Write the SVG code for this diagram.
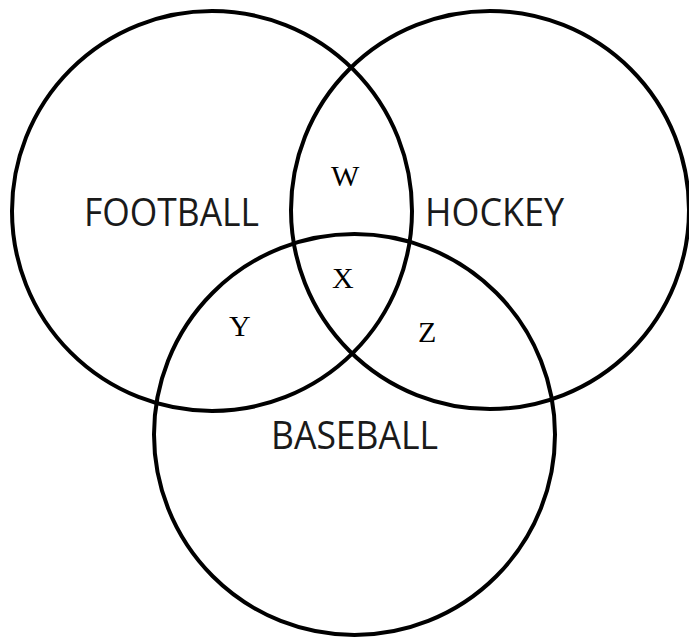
<svg xmlns="http://www.w3.org/2000/svg" width="689" height="639" viewBox="0 0 689 639">
<style>
.c{fill:none;stroke:#000;stroke-width:4}
.lab{font-family:"Open Sans","Liberation Sans",sans-serif;font-size:39px;fill:#1a1a1a}
.let{font-family:"Liberation Serif","Times New Roman",serif;font-size:30px;fill:#000}
</style>
<rect width="689" height="639" fill="#fff"/>
<g id="football"><circle class="c" cx="212" cy="211" r="200"/><text class="lab" x="84" y="226" textLength="175" lengthAdjust="spacingAndGlyphs">FOOTBALL</text></g>
<g id="hockey"><circle class="c" cx="490" cy="210" r="199"/><text class="lab" x="425" y="226" textLength="139" lengthAdjust="spacingAndGlyphs">HOCKEY</text></g>
<g id="baseball"><circle class="c" cx="354.5" cy="434.5" r="200.5"/><text class="lab" x="271" y="449" textLength="167" lengthAdjust="spacingAndGlyphs">BASEBALL</text></g>
<g id="regions">
<text class="let" x="331" y="186">W</text>
<text class="let" x="332" y="288">X</text>
<text class="let" x="229" y="336">Y</text>
<text class="let" x="418" y="342">Z</text>
</g>
</svg>
